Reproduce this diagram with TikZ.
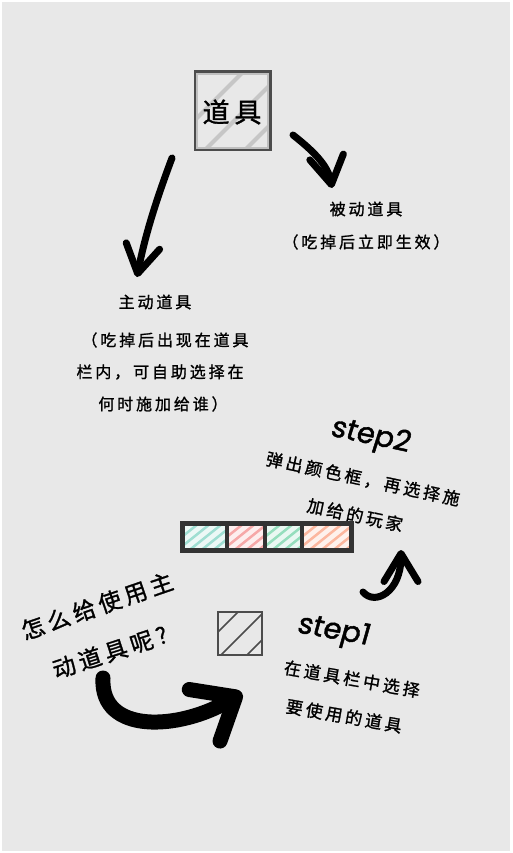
\documentclass[tikz,border=0pt]{standalone}
\usepackage{fontspec}
\setmainfont{Noto Sans CJK SC}
\newfontfamily\handfont[LetterSpace=18,FakeBold=1.2]{Noto Sans CJK SC}
\newfontfamily\stepfont[FakeBold=1.5,FakeSlant=0.1]{Poppins}
\usetikzlibrary{arrows.meta,positioning}
\definecolor{paper}{RGB}{232,232,232}
\definecolor{tealc}{RGB}{95,200,180}
\definecolor{redc}{RGB}{240,110,110}
\definecolor{greenc}{RGB}{80,200,145}
\definecolor{orangec}{RGB}{250,135,95}

\begin{document}
\begin{tikzpicture}[x=1pt,y=-1pt,
    brush/.style={line width=7pt, line cap=round,
      -{Straight Barb[length=28pt,width=34pt,line cap=round,line join=round]}},
    bigbrush/.style={line width=15pt, line cap=round,
      -{Straight Barb[length=36pt,width=60pt,line cap=round,line join=round]}},
    label/.style={inner sep=0pt, font=\handfont\fontsize{16}{16}\selectfont},
    steplabel/.style={inner sep=0pt, font=\handfont\fontsize{17}{17}\selectfont},
    asklabel/.style={inner sep=0pt, font=\handfont\fontsize{23}{23}\selectfont},
    steptitle/.style={inner sep=0pt, font=\stepfont\fontsize{29}{29}\selectfont}]
    \useasboundingbox (0,0) rectangle (512,853);
    % Background
    \fill[white] (0,0) rectangle (512,853);
    \fill[paper] (2,2) rectangle (510,851);

    % Item box
    \begin{scope}
        \clip (195,72) rectangle (270,150);
        \foreach \k in {155,195,235}
            \draw[gray!45, line width=4] (\k,160) -- ++(100,-100);
    \end{scope}
    \draw[gray!60!black, line width=3] (195,72) rectangle (270,150);
    \draw[gray!50, line width=1.5] (197,74) rectangle (268,148);
    \node[inner sep=0pt, font=\handfont\fontsize{27}{27}\selectfont] (item) at (232,112) {道具};

    % Passive items
    \node[label] (passive) at (366,209) {被动道具};
    \node[label] (passivenote) at (366,242) {（吃掉后立即生效）};

    % Active items
    \node[label] (active) at (155,302) {主动道具};
    \node[label] (activenote1) at (165,340) {（吃掉后出现在道具};
    \node[label] (activenote2) at (160,372) {栏内，可自助选择在};
    \node[label] (activenote3) at (163,404) {何时施加给谁）};

    % Arrows from the item box
    \coordinate (itemleft) at (172,158);
    \coordinate (activetop) at (137,277);
    \coordinate (itemright) at (293,135);
    \coordinate (passivetop) at (332,188);
    \draw[brush] (itemleft) .. controls (160,190) and (146,230) .. (activetop);
    \draw[brush] (itemright) .. controls (312,150) and (328,165) .. (passivetop);

    % Step 2
    \node[steptitle, rotate=-12] (step2) at (370,437) {step2};
    \node[steplabel, rotate=-12] (step2note1) at (363,479) {弹出颜色框，再选择施};
    \node[steplabel, rotate=-12] (step2note2) at (355,515) {加给的玩家};

    % Colour bar
    \foreach \xa/\xb/\col in {182/227/tealc, 227/265/redc, 265/302/greenc, 302/351/orangec} {
        \fill[\col!12] (\xa,523) rectangle (\xb,550);
        \begin{scope}
            \clip (\xa,523) rectangle (\xb,550);
            \foreach \k in {-24,-12,0,12,24,36}
                \draw[\col!60, line width=2.5] (\xa+\k,556) -- ++(45,-36);
        \end{scope}
    }
    \draw[black!80, line width=5] (182,523) rectangle (351,550);
    \foreach \xd in {227,265,302}
        \draw[black!80, line width=4] (\xd,523) -- (\xd,550);
    \coordinate (barright) at (363,592);
    \coordinate (step2bottom) at (401,550);
    \draw[brush] (barright) .. controls (375,606) and (401,592) .. (step2bottom);

    % Step 1
    \begin{scope}
        \clip (218,612) rectangle (262,655);
        \foreach \k in {190,216,242}
            \draw[gray!60!black, line width=1.5] (\k,660) -- ++(60,-60);
    \end{scope}
    \draw[gray!60!black, line width=2] (218,612) rectangle (262,655);
    \node[steptitle, rotate=-10] (step1) at (333,632) {step1};
    \node[steplabel, rotate=-10] (step1note1) at (352,679) {在道具栏中选择};
    \node[steplabel, rotate=-10] (step1note2) at (344,716) {要使用的道具};

    % Question
    \node[asklabel, rotate=19] (ask1) at (97,606) {怎么给使用主};
    \node[asklabel, rotate=18] (ask2) at (110,652) {动道具呢?};
    \coordinate (askend) at (103,678);
    \coordinate (slotleft) at (242,693);
    \draw[bigbrush] (askend) .. controls (100,735) and (180,730) .. (slotleft);
\end{tikzpicture}
\end{document}
